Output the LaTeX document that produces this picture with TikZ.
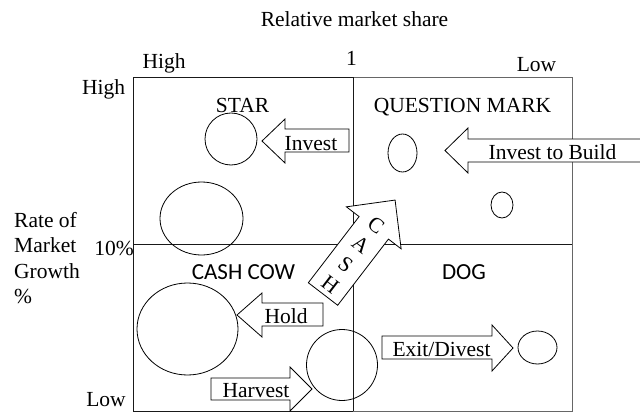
\documentclass[tikz,border=0pt]{standalone}
\usepackage{fontspec}
\setmainfont{Liberation Serif}
\newfontfamily\cellfont{Carlito}

\begin{document}
\begin{tikzpicture}[x=1pt,y=-1pt,
  lbl/.style={font=\fontsize{21.5}{25}\selectfont, inner sep=0pt},
  cell/.style={font=\cellfont\fontsize{23}{27}\selectfont, inner sep=0pt},
  frame/.style={line width=1pt, draw=black!90},
  blk/.style={draw=black, line width=0.8pt, fill=white, line join=miter},
  bub/.style={draw=black, line width=0.8pt}]
\useasboundingbox (0,0) rectangle (640,412);
\clip (0,0) rectangle (640,412);
% the matrix
\draw[frame] (353,411) -- (133,411) -- (133,78) -- (353,78);
\draw[frame, draw=black!60] (353,77.5) -- (572,77.5) -- (572,411) -- (353,411);
\draw[frame] (353,77.5) -- (353,411);
\draw[frame] (133,244.5) -- (572,244.5);
% axis labels
\node[lbl, anchor=base] (title) at (354.5,27) {Relative market share};
\node[lbl, anchor=base] (shareHigh) at (164,69) {High};
\node[lbl, anchor=base] (shareOne) at (351.5,66) {1};
\node[lbl, anchor=base] (shareLow) at (536.5,71) {Low};
\node[lbl, anchor=base] (growHigh) at (103.5,95) {High};
\node[lbl, anchor=base east] (growTen) at (134,255) {10\%};
\node[lbl, anchor=base] (growLow) at (106,406) {Low};
\foreach \txt [count=\i] in {Rate of, Market, Growth, \%}
  \node[lbl, anchor=base west] (growth\i) at (14,{201.5+25.5*\i}) {\txt};
% cell names
\node[lbl, anchor=base] (star) at (242.5,112.7) {STAR};
\node[lbl, anchor=base] (qmark) at (462.5,113) {QUESTION MARK};
\node[cell, anchor=base] (cow) at (243.5,279) {CASH COW};
\node[cell, anchor=base] (dog) at (464,279) {DOG};
% bubbles
\draw[bub] (231,139) circle [radius=26pt];
\draw[bub] (201.5,218.5) ellipse [x radius=41.5pt, y radius=36.5pt];
\draw[bub] (402.5,153) ellipse [x radius=14.5pt, y radius=19pt];
\draw[bub] (502,205) ellipse [x radius=11pt, y radius=13pt];
\draw[bub] (187.5,329) ellipse [x radius=50.5pt, y radius=46pt];
\draw[bub] (342,365) circle [radius=35.5pt];
\draw[bub] (537.5,347.5) ellipse [x radius=19.5pt, y radius=16.5pt];
% block arrows
\draw[blk] (262,141) -- (285,119) -- (285,129) -- (349,129) -- (349,152) -- (285,152) -- (285,163) -- cycle;
\node[lbl, anchor=base] (invest) at (311,150) {Invest};
\draw[blk] (445,150.5) -- (468,128) -- (468,139) -- (645,139) -- (645,162) -- (468,162) -- (468,173) -- cycle;
\node[lbl, anchor=base] (build) at (552.5,159) {Invest to Build};
\draw[blk] (237,315) -- (262,293) -- (262,303) -- (323,303) -- (323,326) -- (262,326) -- (262,337) -- cycle;
\node[lbl, anchor=base] (hold) at (286,323) {Hold};
\draw[blk] (312,389) -- (290,367) -- (290,378) -- (211,378) -- (211,400) -- (290,400) -- (290,411) -- cycle;
\node[lbl, anchor=base] (harvest) at (256,397) {Harvest};
\draw[blk] (513,348) -- (492,325) -- (492,336) -- (382,336) -- (382,359) -- (492,359) -- (492,371) -- cycle;
\node[lbl, anchor=base] (exit) at (441.5,356) {Exit/Divest};
% cash flows from the cow to the question marks
\begin{scope}[shift={(323,294)}, rotate=52.5]
\draw[blk] (0,-18.5) -- (83.4,-18.5) -- (83.4,-34.5) -- (118.4,0) -- (83.4,34.5) -- (83.4,18.5) -- (0,18.5) -- cycle;
\foreach \l/\u in {H/12, S/37, A/62, C/87}
  \node[lbl, rotate=-37.5] (cash\l) at (\u,0) {\l};
\end{scope}
\end{tikzpicture}
\end{document}
